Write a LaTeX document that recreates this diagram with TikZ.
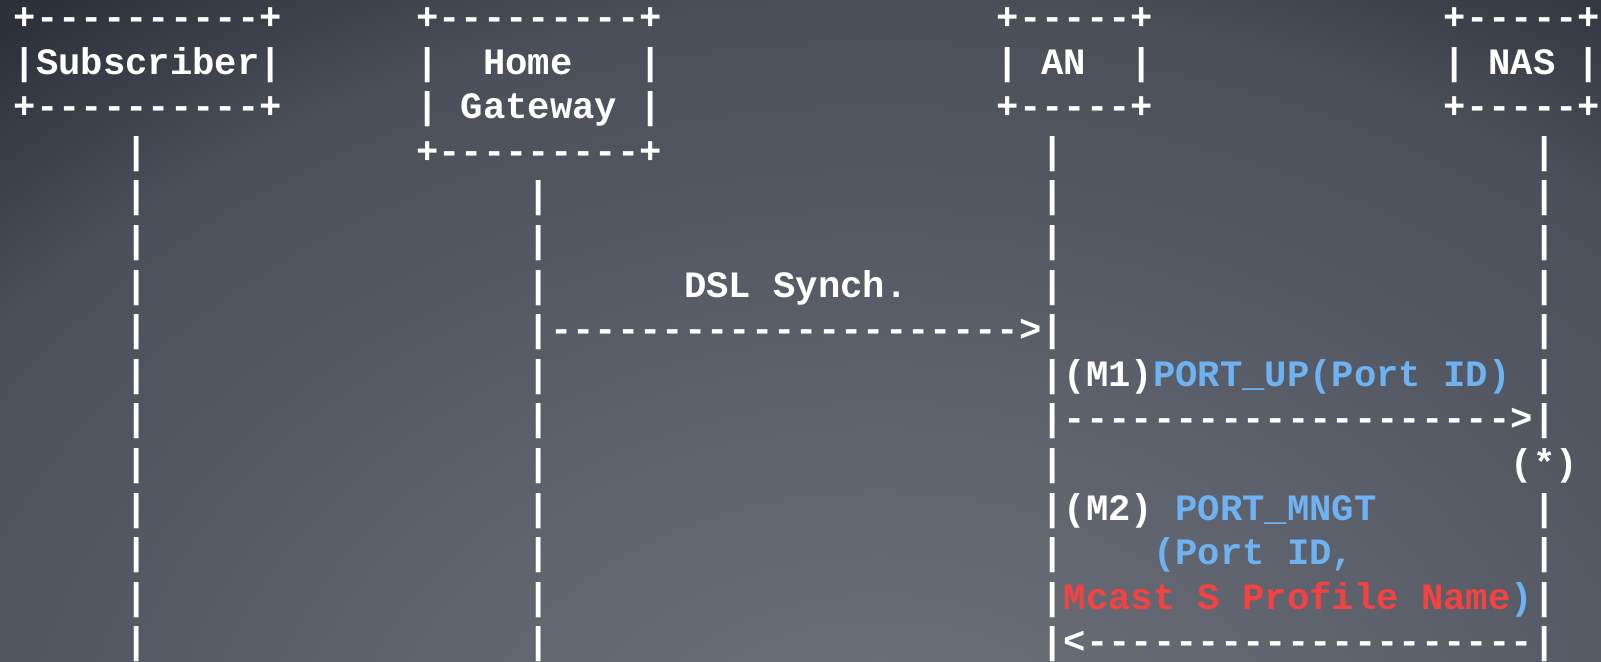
\documentclass[tikz,border=0pt]{standalone}
\usepackage{fontspec}
\newfontfamily\monofnt[Ligatures=TeXOff]{Liberation Mono}
\definecolor{bga}{HTML}{70747D}
\definecolor{bgb}{HTML}{4B4F5A}
\definecolor{bgc}{HTML}{2D313C}
\definecolor{bgd}{HTML}{2A2E39}
\definecolor{lblue}{HTML}{6EB2F2}
\definecolor{lred}{HTML}{F44242}
\pgfdeclareradialshading{bgshade}{\pgfpoint{0bp}{0bp}}{color(0bp)=(bga); color(18bp)=(bgb); color(22.7bp)=(bgc); color(25bp)=(bgd); color(50bp)=(bgd)}
\newcommand\asc[5][white]{\node[txt,text=#1] (#2) at ({13.9+22.34*#3},{29.5+44.6*#4}) {#5};}
\begin{document}
\begin{tikzpicture}[x=0.5pt,y=-0.5pt,
  txt/.style={anchor=base west,inner sep=0pt,outer sep=0pt,
    font=\monofnt\bfseries\fontsize{18.61pt}{22.3pt}\selectfont}]
\useasboundingbox (0,0) rectangle (1601,662);
\begin{scope}
\clip (0,0) rectangle (1601,662);
\fill[bgd] (0,0) rectangle (1601,662);
\shade[shading=bgshade] (880,800) ellipse (1500 and 1100);
\end{scope}
% row 0
\asc{b0a}{0}{0}{+----------+}
\asc{b0b}{18}{0}{+---------+}
\asc{b0c}{44}{0}{+-----+}
\asc{b0d}{64}{0}{+-----+}
% row 1
\asc{b1a}{0}{1}{|Subscriber|}
\asc{b1b}{18}{1}{|}
\asc{b1c}{21}{1}{Home}
\asc{b1d}{28}{1}{|}
\asc{b1e}{44}{1}{|}
\asc{b1f}{46}{1}{AN}
\asc{b1g}{50}{1}{|}
\asc{b1h}{64}{1}{|}
\asc{b1i}{66}{1}{NAS}
\asc{b1j}{70}{1}{|}
% row 2
\asc{b2a}{0}{2}{+----------+}
\asc{b2b}{18}{2}{|}
\asc{b2c}{20}{2}{Gateway}
\asc{b2d}{28}{2}{|}
\asc{b2e}{44}{2}{+-----+}
\asc{b2f}{64}{2}{+-----+}
% row 3
\asc{b3b}{18}{3}{+---------+}
% lifelines
\foreach \r in {3,...,14}{\asc{ls\r}{5}{\r}{|}}
\foreach \r in {4,...,14}{\asc{lh\r}{23}{\r}{|}}
\foreach \r in {3,...,14}{\asc{la\r}{46}{\r}{|}}
\foreach \r in {3,...,9,11,12,13,14}{\asc{ln\r}{68}{\r}{|}}
% messages
\asc{dsl}{30}{6}{DSL Synch.}
\asc{dslarr}{24}{7}{--------------------->}
\asc{m1}{47}{8}{(M1)\textcolor{lblue}{PORT\_UP(Port ID)}}
\asc{m1arr}{47}{9}{-------------------->}
\asc{star}{67}{10}{(*)}
\asc{m2}{47}{11}{(M2)}
\asc[lblue]{m2b}{52}{11}{PORT\_MNGT}
\asc[lblue]{m2c}{51}{12}{(Port ID,}
\asc[lred]{m2d}{47}{13}{Mcast S Profile Name\textcolor{lblue}{)}}
\asc{m2arr}{47}{14}{<--------------------}
\end{tikzpicture}
\end{document}
